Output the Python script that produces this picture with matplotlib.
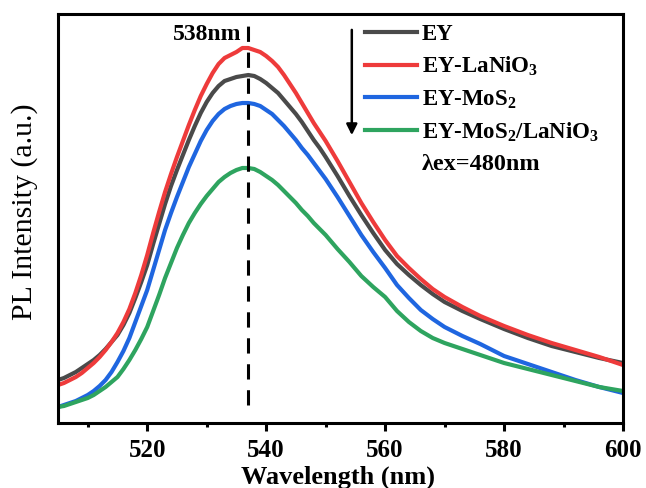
import matplotlib
matplotlib.use("Agg")
import matplotlib.pyplot as plt
from matplotlib.ticker import MultipleLocator

plt.rcParams['font.family'] = ['Liberation Serif', 'DejaVu Serif']
plt.rcParams['mathtext.fontset'] = 'custom'
plt.rcParams['mathtext.rm'] = 'Liberation Serif:bold'
plt.rcParams['mathtext.bf'] = 'Liberation Serif:bold'
plt.rcParams['mathtext.it'] = 'Liberation Serif:bold:italic'

# PL spectra (arbitrary units)
wavelength = list(range(505, 551)) + [552, 554, 556, 558, 560, 562, 564, 566, 568, 570,
                                      573, 576, 580, 584, 588, 592, 596, 600]
ey = [43, 45, 48, 51, 55, 59, 63, 68, 74, 81, 88, 98, 110, 125, 141,
      158, 179, 199, 219, 237, 253, 268, 283, 297, 310, 321, 330, 337, 342, 344, 346,
      347, 348, 347, 344, 340, 335, 330, 323, 316, 309, 301, 292, 283, 275, 266,
      247, 227, 208, 190,
      173, 159, 148, 138, 129, 121, 112, 104, 94, 85, 77, 71, 65, 60]
ey_lanio3 = [38, 40, 43, 46, 50, 55, 60, 66, 73, 81, 90, 101, 114, 130, 148,
             168, 190, 211, 231, 249, 266, 282, 298, 313, 327, 339, 350, 359, 365, 368, 371,
             375, 375, 373, 371, 367, 362, 356, 348, 339, 330, 320, 310, 300, 291, 282,
             262, 241, 220, 201,
             183, 167, 155, 144, 134, 126, 116, 107, 97, 88, 80, 73, 66, 58]
ey_mos2 = [16, 18, 20, 22, 25, 28, 32, 37, 43, 51, 61, 72, 85, 101, 117,
           133, 153, 173, 193, 210, 226, 241, 256, 269, 282, 293, 302, 309, 314, 317, 319,
           320, 320, 319, 317, 313, 309, 303, 297, 290, 283, 275, 268, 260, 252, 244,
           226, 207, 188, 171,
           155, 138, 125, 113, 104, 96, 87, 79, 67, 59, 51, 43, 36, 30]
ey_mos2_lanio3 = [16, 17, 19, 21, 23, 25, 28, 32, 36, 41, 46, 54, 63, 73, 84,
                  96, 112, 128, 145, 160, 175, 188, 200, 210, 219, 227, 234, 241, 246, 250, 253,
                  255, 255, 254, 251, 247, 243, 238, 232, 226, 220, 213, 207, 200, 194, 188,
                  174, 161, 147, 136,
                  126, 112, 101, 92, 85, 80, 74, 68, 60, 54, 48, 42, 36, 32]

labels = ['EY', 'EY-LaNiO$_3$', 'EY-MoS$_2$', 'EY-MoS$_2$/LaNiO$_3$']
colors = ['#4a4a4a', '#ee3b3b', '#1f66e0', '#2ea45f']
peak_nm = 537

fig = plt.figure(figsize=(6.46, 4.88), dpi=100)
ax = fig.add_axes([0.0898, 0.1332, 0.8746, 0.8381])

for series, lab, col in zip([ey, ey_lanio3, ey_mos2, ey_mos2_lanio3], labels, colors):
    ax.plot(wavelength, series, color=col, lw=3, label=lab)

ax.plot([peak_nm, peak_nm], [18, 400], color='black', lw=2.2, dashes=(5, 3.5))
ax.text(peak_nm - 1.2, 389, '538nm', ha='right', va='center', fontsize=17, fontweight='bold')

ax.set_xlim(505, 600)
ax.set_ylim(0, 409)
ax.xaxis.set_major_locator(MultipleLocator(20))
ax.xaxis.set_minor_locator(MultipleLocator(10))
ax.set_yticks([])
ax.tick_params(axis='x', which='major', length=6, width=2.2, labelsize=18, pad=5.5)
ax.tick_params(axis='x', which='minor', length=3, width=2.2)
for lbl in ax.get_xticklabels():
    lbl.set_fontweight('bold')
for sp in ax.spines.values():
    sp.set_linewidth(2.2)

ax.set_xlabel('Wavelength (nm)', fontsize=19, fontweight='bold')
ax.xaxis.set_label_coords(0.496, -0.104)
ax.set_ylabel('PL Intensity (a.u.)', fontsize=21.5)
ax.yaxis.set_label_coords(-0.035, 0.517)

leg = ax.legend(loc='upper left', bbox_to_anchor=(0.543, 0.975), frameon=False,
                borderpad=0, borderaxespad=0, handlelength=2.27, handletextpad=0.22,
                labelspacing=0.43, prop={'size': 16.5, 'weight': 'bold'})
for h in leg.get_lines():
    h.set_linewidth(3)

ax.annotate('', xy=(0.520, 0.697), xytext=(0.520, 0.968), xycoords='axes fraction',
            arrowprops=dict(arrowstyle='-|>', color='black', lw=1.8, mutation_scale=16))
ax.text(0.644, 0.631, 'λex=480nm', transform=ax.transAxes, fontsize=17.5,
        fontweight='bold', va='center', ha='left')

fig.savefig('out.png', dpi=100)
